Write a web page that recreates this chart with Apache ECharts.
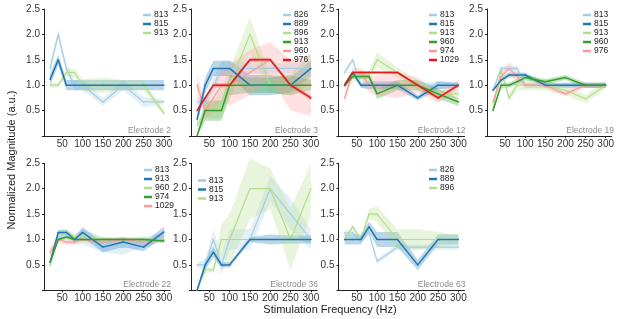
<!DOCTYPE html>
<html><head><meta charset="utf-8">
<script src="https://cdn.jsdelivr.net/npm/echarts@6/dist/echarts.min.js"></script>
<style>html,body{margin:0;padding:0;background:#fff}#c{width:617px;height:319px}</style>
</head><body><div id="c"></div>
<script>
// ---- data ----
const freqs = [20, 40, 60, 80, 100, 150, 200, 250, 300];
const xTicks = [50, 100, 150, 200, 250, 300];
const yTicks = [0.5, 1.0, 1.5, 2.0, 2.5];
const panelTitles = ['Electrode 2', 'Electrode 3', 'Electrode 12', 'Electrode 19', 'Electrode 22', 'Electrode 36', 'Electrode 63'];

const e2Ids = ['813', '815', '913'];
const e2Mean = [
  [1.33, 2.0, 1.33, 1.0, 1.0, 0.67, 1.0, 0.67, 0.67],
  [1.11, 1.5, 1.0, 1.0, 1.0, 1.0, 1.0, 1.0, 1.0],
  [1.0, 1.0, 1.25, 1.25, 1.0, 1.0, 1.0, 1.0, 0.45]
];
const e2Err = [
  [0.12, 0.1, 0.1, 0.1, 0.1, 0.08, 0.1, 0.1, 0.05],
  [0.12, 0.1, 0.1, 0.1, 0.1, 0.1, 0.1, 0.1, 0.1],
  [0.05, 0.05, 0.08, 0.08, 0.12, 0.15, 0.1, 0.1, 0.05]
];

const e3Ids = ['826', '889', '896', '913', '960', '976'];
const e3Mean = [
  [0.67, 0.67, 1.0, 1.33, 1.33, 1.33, 1.33, 1.33, 1.33],
  [0.33, 1.0, 1.33, 1.33, 1.33, 1.0, 1.0, 1.0, 1.33],
  [0.2, 0.5, 0.5, 0.67, 1.0, 2.0, 1.0, 1.0, 1.33],
  [0.0, 0.5, 0.5, 0.5, 1.0, 1.0, 1.0, 1.0, 1.0],
  [1.0, 0.5, 0.75, 1.0, 1.0, 1.25, 1.5, 1.0, 1.0],
  [0.5, 0.75, 1.0, 1.0, 1.0, 1.5, 1.5, 1.0, 0.75]
];
const e3Err = [
  [0.1, 0.1, 0.15, 0.15, 0.15, 0.1, 0.1, 0.1, 0.15],
  [0.1, 0.15, 0.15, 0.15, 0.15, 0.2, 0.2, 0.15, 0.15],
  [0.05, 0.1, 0.15, 0.3, 0.3, 0.35, 0.15, 0.2, 0.3],
  [0.05, 0.2, 0.2, 0.2, 0.2, 0.15, 0.15, 0.2, 0.1],
  [0.2, 0.2, 0.25, 0.3, 0.4, 0.45, 0.35, 0.5, 0.6],
  [0.04, 0.04, 0.04, 0.04, 0.04, 0.04, 0.04, 0.04, 0.04]
];

const e12Ids = ['813', '815', '913', '960', '974', '1029'];
const e12Mean = [
  [1.25, 1.5, 1.0, 1.0, 1.0, 1.0, 1.0, 1.0, 1.0],
  [1.0, 1.25, 1.0, 1.0, 1.0, 1.0, 0.75, 1.0, 1.0],
  [1.0, 1.17, 1.17, 1.17, 1.5, 1.25, 1.0, 0.83, 0.83],
  [1.0, 1.17, 1.17, 1.17, 0.83, 1.0, 1.0, 0.83, 0.67],
  [0.75, 1.25, 1.25, 1.0, 1.0, 1.0, 1.0, 0.75, 1.0],
  [1.0, 1.25, 1.25, 1.25, 1.25, 1.25, 1.0, 0.75, 1.0]
];
const e12Err = [
  [0.05, 0.05, 0.05, 0.05, 0.05, 0.05, 0.05, 0.08, 0.05],
  [0.05, 0.05, 0.05, 0.08, 0.08, 0.08, 0.05, 0.08, 0.05],
  [0.05, 0.1, 0.1, 0.1, 0.15, 0.1, 0.1, 0.08, 0.08],
  [0.05, 0.05, 0.05, 0.05, 0.1, 0.1, 0.1, 0.1, 0.08],
  [0.1, 0.1, 0.1, 0.15, 0.2, 0.25, 0.15, 0.1, 0.1],
  [0.03, 0.03, 0.03, 0.03, 0.03, 0.03, 0.03, 0.03, 0.03]
];

const e19Ids = ['813', '815', '913', '960', '976'];
const e19Mean = [
  [0.9, 1.33, 1.33, 1.33, 1.0, 1.0, 1.0, 1.0, 1.0],
  [0.9, 1.1, 1.2, 1.2, 1.2, 1.0, 1.0, 1.0, 1.0],
  [0.55, 1.3, 0.75, 1.0, 1.0, 1.0, 0.9, 0.73, 1.0],
  [0.5, 1.0, 1.0, 1.07, 1.15, 1.07, 1.15, 1.0, 1.0],
  [0.67, 1.17, 1.33, 1.17, 1.0, 1.0, 0.83, 1.0, 1.0]
];
const e19Err = [
  [0.03, 0.05, 0.05, 0.05, 0.05, 0.05, 0.05, 0.05, 0.05],
  [0.03, 0.05, 0.05, 0.05, 0.05, 0.05, 0.05, 0.05, 0.05],
  [0.05, 0.08, 0.08, 0.1, 0.1, 0.1, 0.1, 0.08, 0.08],
  [0.03, 0.05, 0.05, 0.05, 0.05, 0.05, 0.05, 0.05, 0.05],
  [0.05, 0.1, 0.12, 0.1, 0.05, 0.05, 0.05, 0.05, 0.05]
];

const e22Ids = ['813', '913', '960', '974', '1029'];
const e22Mean = [
  [0.5, 1.05, 1.1, 1.0, 1.05, 0.9, 0.85, 0.95, 1.05],
  [0.55, 1.14, 1.14, 1.0, 1.14, 0.85, 0.95, 0.85, 1.15],
  [0.5, 1.1, 1.15, 1.05, 1.05, 1.0, 1.0, 1.0, 1.0],
  [0.55, 1.0, 1.05, 1.0, 1.0, 1.0, 1.0, 1.0, 0.97],
  [0.75, 1.0, 0.95, 0.95, 1.0, 0.95, 1.0, 0.95, 1.0]
];
const e22Err = [
  [0.05, 0.1, 0.1, 0.1, 0.15, 0.15, 0.15, 0.1, 0.1],
  [0.05, 0.05, 0.05, 0.05, 0.1, 0.1, 0.1, 0.08, 0.1],
  [0.05, 0.05, 0.05, 0.05, 0.05, 0.05, 0.05, 0.05, 0.05],
  [0.03, 0.03, 0.03, 0.03, 0.03, 0.03, 0.03, 0.03, 0.03],
  [0.1, 0.08, 0.05, 0.05, 0.05, 0.05, 0.05, 0.05, 0.05]
];

const e36Ids = ['813', '815', '913'];
const e36Mean = [
  [0.5, 0.5, 1.0, 0.5, 1.0, 1.0, 2.0, 1.5, 1.0],
  [0.0, 0.5, 0.75, 0.5, 0.5, 1.0, 1.0, 1.0, 1.0],
  [0.0, 0.4, 0.4, 1.0, 1.0, 2.0, 2.0, 1.0, 2.0]
];
const e36Err = [
  [0.05, 0.1, 0.2, 0.2, 0.2, 0.2, 0.25, 0.3, 0.2],
  [0.05, 0.1, 0.1, 0.05, 0.05, 0.05, 0.1, 0.08, 0.08],
  [0.05, 0.05, 0.05, 0.3, 0.5, 0.6, 0.4, 0.6, 0.5]
];

const e63Ids = ['826', '889', '896'];
const e63Mean = [
  [1.13, 1.13, 1.0, 1.13, 0.57, 0.85, 0.85, 0.85, 0.85],
  [1.0, 1.0, 1.0, 1.25, 1.0, 1.0, 0.5, 1.0, 1.0],
  [1.0, 1.25, 1.0, 1.5, 1.5, 1.0, 1.0, 1.0, 1.0]
];
const e63Err = [
  [0.05, 0.05, 0.05, 0.05, 0.05, 0.05, 0.05, 0.05, 0.05],
  [0.1, 0.1, 0.1, 0.1, 0.15, 0.15, 0.1, 0.1, 0.1],
  [0.05, 0.05, 0.05, 0.1, 0.15, 0.2, 0.2, 0.15, 0.1]
];

// ---- layout & style ----
const palette = ['#a6cee3', '#1f78b4', '#b2df8a', '#33a02c', '#fb9a99', '#e31a1c'];
const panels = [
  [e2Ids, e2Mean, e2Err], [e3Ids, e3Mean, e3Err], [e12Ids, e12Mean, e12Err],
  [e19Ids, e19Mean, e19Err], [e22Ids, e22Mean, e22Err], [e36Ids, e36Mean, e36Err],
  [e63Ids, e63Mean, e63Err]
];
const colLeft = [44, 191, 338.5, 487];
const rowTop = [9, 163.3];
const GW = 126, GH = 127;
const legendPos = [[143, 10.5], [283, 10.5], [429, 10.5], [583, 10.5], [144, 165.5], [198, 176], [429, 165.5]];

const grid = [], xAxis = [], yAxis = [], series = [], legend = [], graphic = [];
panels.forEach((p, pi) => {
  const [ids, means, errs] = p;
  const col = pi % 4, row = pi < 4 ? 0 : 1;
  const left = colLeft[col], top = rowTop[row];
  grid.push({left: left, top: top, width: GW, height: GH});
  xAxis.push({
    type: 'value', gridIndex: pi, min: 5, max: 315,
    axisLine: {lineStyle: {color: '#222', width: 1}},
    axisTick: {customValues: xTicks, length: 2, lineStyle: {color: '#222'}},
    axisLabel: {customValues: xTicks, fontSize: 10, color: '#333', margin: 3, fontFamily: 'Liberation Sans'},
    splitLine: {show: false}
  });
  yAxis.push({
    type: 'value', gridIndex: pi, min: 0, max: 2.5, interval: 0.5,
    axisLine: {show: true, lineStyle: {color: '#222', width: 1}},
    axisTick: {show: true, length: 2, lineStyle: {color: '#222'}},
    axisLabel: {fontSize: 10, color: '#333', margin: 4, fontFamily: 'Liberation Sans',
      formatter: v => v === 0 ? '' : v.toFixed(1)},
    splitLine: {show: false}
  });
  const names = [];
  ids.forEach((id, si) => {
    const color = palette[si];
    const dark = si % 2 === 1;
    const m = means[si], e = errs[si];
    const nm = 'p' + pi + '_' + id;
    names.push(nm);
    series.push({
      type: 'custom', name: 'band' + nm, xAxisIndex: pi, yAxisIndex: pi, silent: true, z: 1,
      data: freqs.map((f, i) => [f, m[i]]),
      renderItem: (params, api) => {
        if (params.dataIndex !== 0) return null;
        const pts = [];
        freqs.forEach((fq, i) => pts.push(api.coord([fq, m[i] + e[i]])));
        for (let i = freqs.length - 1; i >= 0; i--) pts.push(api.coord([freqs[i], Math.max(0, m[i] - e[i])]));
        return {type: 'polygon', shape: {points: pts}, style: {fill: color, opacity: 0.3}};
      }
    });
    series.push({
      type: 'line', name: nm, xAxisIndex: pi, yAxisIndex: pi, z: dark ? 4 : 3,
      data: freqs.map((f, i) => [f, m[i]]),
      symbol: 'circle', symbolSize: 1.5, showSymbol: true,
      itemStyle: {color: color}, lineStyle: {color: color, width: dark ? 1.5 : 1.2},
      emphasis: {disabled: true}
    });
  });
  legend.push({
    data: names, orient: 'vertical', left: legendPos[pi][0], top: legendPos[pi][1],
    icon: 'rect', itemWidth: 8, itemHeight: 2.5, itemGap: 0, padding: 0,
    textStyle: {fontSize: 8.5, lineHeight: 7, color: '#222', padding: [0, 0, 0, -2], fontFamily: 'Liberation Sans'},
    formatter: n => n.split('_')[1], selectedMode: false
  });
  graphic.push({
    type: 'text', right: 617 - (left + GW + 1), top: (row ? 285 : 131) - 5,
    style: {text: panelTitles[pi], fill: '#8a8a8a', fontSize: 8.5, fontFamily: 'Liberation Sans'}
  });
});
graphic.push({
  type: 'text', x: 12, y: 160, rotation: Math.PI / 2,
  style: {text: 'Normalized Magnitude (a.u.)', fill: '#222', fontSize: 11, fontFamily: 'Liberation Sans', align: 'center', verticalAlign: 'middle'}
});
graphic.push({
  type: 'text', x: 330, y: 310,
  style: {text: 'Stimulation Frequency (Hz)', fill: '#222', fontSize: 11, fontFamily: 'Liberation Sans', align: 'center', verticalAlign: 'middle'}
});

const chart = echarts.init(document.getElementById('c'), null, {renderer: 'canvas'});
chart.setOption({animation: false, grid, xAxis, yAxis, series, legend, graphic});
</script></body></html>
